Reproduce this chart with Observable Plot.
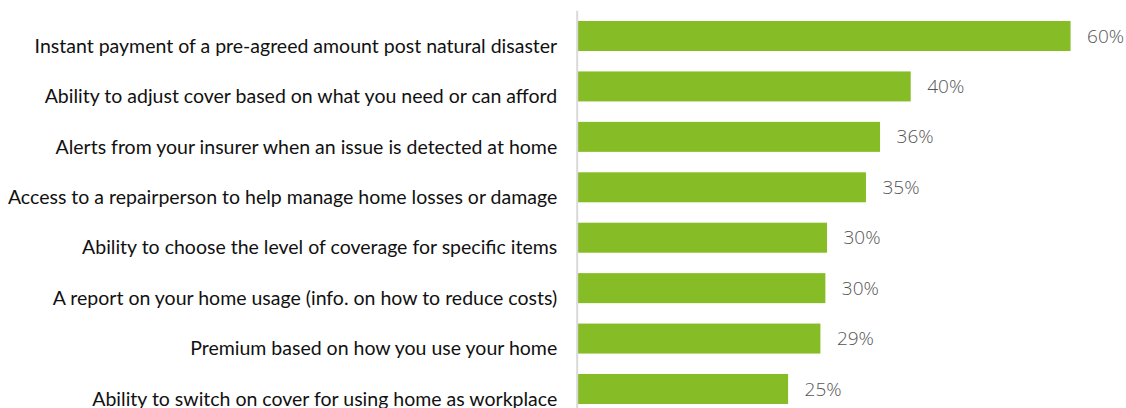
<!DOCTYPE html>
<html>
<head>
<meta charset="utf-8">
<script src="https://cdn.jsdelivr.net/npm/d3@7"></script>
<script src="https://cdn.jsdelivr.net/npm/@observablehq/plot@0.6"></script>
<style>
  html, body { margin: 0; padding: 0; background: #fff; overflow: hidden; }
  #chart svg { display: block; }
</style>
</head>
<body>
<div id="chart"></div>
<script>
const categories = [
  "Instant payment of a pre-agreed amount post natural disaster",
  "Ability to adjust cover based on what you need or can afford",
  "Alerts from your insurer when an issue is detected at home",
  "Access to a repairperson to help manage home losses or damage",
  "Ability to choose the level of coverage for specific items",
  "A report on your home usage (info. on how to reduce costs)",
  "Premium based on how you use your home",
  "Ability to switch on cover for using home as workplace"
];
const values = [59.5, 40.2, 36.5, 34.8, 30.1, 29.9, 29.3, 25.4];
const valueLabels = ["60%", "40%", "36%", "35%", "30%", "30%", "29%", "25%"];

const data = categories.map((c, i) => ({category: c, value: values[i], label: valueLabels[i]}));

const chart = Plot.plot({
  width: 1126,
  height: 420,
  marginLeft: 577.7,
  marginRight: 51.3,
  marginTop: 10.8,
  marginBottom: 5.8,
  style: {background: "#fff"},
  x: {domain: [0, 60], axis: null},
  y: {domain: categories, axis: null, paddingInner: 0.405, paddingOuter: 0.2025, round: false},
  marks: [
    Plot.barX(data, {x: "value", y: "category", fill: "#86bc25"}),
    Plot.ruleX([0], {dx: -1, stroke: "#d9d9d9", strokeWidth: 2}),
    Plot.text(data, {
      x: "value", y: "category", text: "label", dx: 16, textAnchor: "start",
      fill: "#555555", fontSize: 19, fontWeight: 300, fontFamily: "'Open Sans', sans-serif"
    }),
    Plot.text(data, {
      x: 0, y: "category", text: "category", dx: -21, dy: 10, textAnchor: "end",
      fill: "#111111", fontSize: 19.5, fontFamily: "Lato, sans-serif"
    })
  ]
});
document.getElementById("chart").appendChild(chart);
</script>
</body>
</html>
